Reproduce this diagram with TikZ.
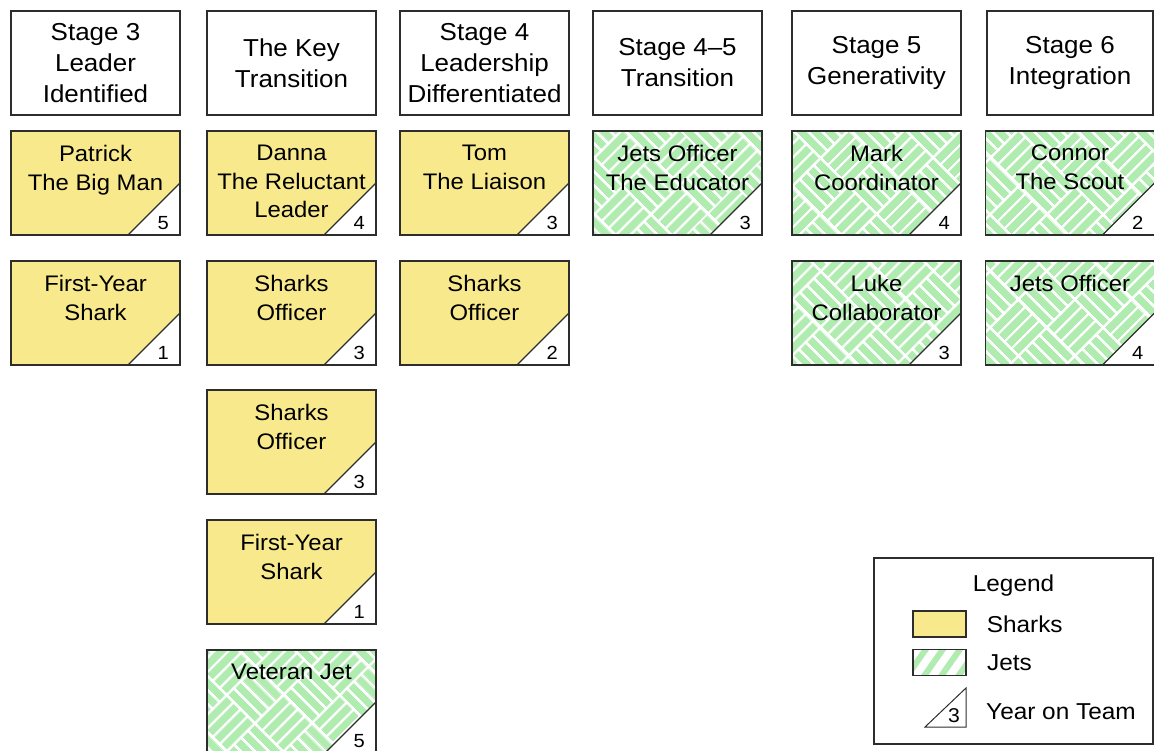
\documentclass[tikz,border=0pt]{standalone}
\usepackage{fontspec}
\setmainfont{Liberation Sans}
\newfontfamily\wide[FakeStretch=1.06, Ligatures=TeX]{Liberation Sans}
\usepackage{tikz}
\usetikzlibrary{positioning}
\usetikzlibrary{patterns.meta}

\definecolor{sharkyellow}{RGB}{248,234,140}
\definecolor{jetgreen}{RGB}{176,235,176}
\definecolor{rim}{RGB}{45,45,45}

\tikzdeclarepattern{
  name=weave, type=colored,
  bottom left={(0pt,0pt)}, top right={(80pt,80pt)},
  tile size={(80pt,80pt)},
  tile transformation={rotate=45},
  code={
    \fill[jetgreen] (0pt,0pt) rectangle (80pt,80pt);
    \foreach \a in {0pt,10pt,20pt,30pt} {
      \draw[white, line width=2.2pt] (0pt,\a) rectangle +(40pt,10pt);
      \draw[white, line width=2.2pt] (40pt+\a,0pt) rectangle +(10pt,40pt);
      \draw[white, line width=2.2pt] (\a,40pt) rectangle +(10pt,40pt);
      \draw[white, line width=2.2pt] (40pt,40pt+\a) rectangle +(40pt,10pt);
    }
  }
}

\begin{document}
\begin{tikzpicture}[x=1pt, y=-1pt]
  \tikzstyle{head}=[rectangle, draw=rim, line width=1.2pt, outer sep=0pt, inner sep=0pt, minimum width=169pt, minimum height=104pt, align=center, font=\wide\fontsize{24.5}{31}\selectfont]
  \tikzstyle{card}=[rectangle, draw=rim, line width=1.2pt, outer sep=0pt, minimum width=169pt, minimum height=104pt,
    path picture={\fill[white] (path picture bounding box.south east) -- ++(-52pt,0pt) -- ++(52pt,52pt) -- cycle;
      \draw[rim, line width=1.2pt] ([xshift=-52pt]path picture bounding box.south east) -- ([yshift=52pt]path picture bounding box.south east);}]
  \tikzstyle{shark}=[card, fill=sharkyellow]
  \tikzstyle{jet}=[card, pattern=weave]
  \tikzstyle{cardtext}=[inner sep=0pt, align=center, font=\wide\fontsize{22.5}{28.5}\selectfont]
  \tikzstyle{year}=[inner sep=0pt, font=\wide\fontsize{19}{19}\selectfont]
  \tikzstyle{keytext}=[inner sep=0pt, font=\wide\fontsize{23}{23}\selectfont]
  \useasboundingbox (0,0) rectangle (1154,751);

    % stage headers
    \node[head] (stage3) at (95.5,63) {Stage 3\\Leader\\Identified};
    \node[head] (keytrans) [right=27pt of stage3] {The Key\\Transition};
    \node[head] (stage4) [right=24pt of keytrans] {Stage 4\\Leadership\\Differentiated};
    \node[head] (stage45) [right=24pt of stage4] {Stage 4--5\\Transition};
    \node[head] (stage5) [right=30pt of stage45] {Stage 5\\Generativity};
    \node[head, minimum width=166pt] (stage6) [right=26pt of stage5] {Stage 6\\Integration};

    % stage 3
    \node[shark] (patrick) [below=16pt of stage3] {};
    \node[cardtext] (patrick-t) [below=14pt of patrick.north] {Patrick\\The Big Man};
    \node[year] (patrick-y) [above left=5pt and 11pt of patrick.south east] {5};
    \node[shark] (fy1) [below=26pt of patrick] {};
    \node[cardtext] (fy1-t) [below=14pt of fy1.north] {First-Year\\Shark};
    \node[year] (fy1-y) [above left=5pt and 11pt of fy1.south east] {1};

    % key transition
    \node[shark] (danna) [below=16pt of keytrans] {};
    \node[cardtext] (danna-t) [below=14pt of danna.north] {Danna\\The Reluctant\\Leader};
    \node[year] (danna-y) [above left=5pt and 11pt of danna.south east] {4};
    \node[shark] (off1) [below=26pt of danna] {};
    \node[cardtext] (off1-t) [below=14pt of off1.north] {Sharks\\Officer};
    \node[year] (off1-y) [above left=5pt and 11pt of off1.south east] {3};
    \node[shark] (off2) [below=25pt of off1] {};
    \node[cardtext] (off2-t) [below=14pt of off2.north] {Sharks\\Officer};
    \node[year] (off2-y) [above left=5pt and 11pt of off2.south east] {3};
    \node[shark] (fy2) [below=26pt of off2] {};
    \node[cardtext] (fy2-t) [below=14pt of fy2.north] {First-Year\\Shark};
    \node[year] (fy2-y) [above left=5pt and 11pt of fy2.south east] {1};
    \node[jet] (vet) [below=26pt of fy2] {};
    \node[cardtext] (vet-t) [below=14pt of vet.north] {Veteran Jet};
    \node[year] (vet-y) [above left=6pt and 11pt of vet.south east] {5};

    % stage 4
    \node[shark] (tom) [below=16pt of stage4] {};
    \node[cardtext] (tom-t) [below=14pt of tom.north] {Tom\\The Liaison};
    \node[year] (tom-y) [above left=5pt and 11pt of tom.south east] {3};
    \node[shark] (off3) [below=26pt of tom] {};
    \node[cardtext] (off3-t) [below=14pt of off3.north] {Sharks\\Officer};
    \node[year] (off3-y) [above left=5pt and 11pt of off3.south east] {2};

    % stage 4-5
    \node[jet] (educator) [below=16pt of stage45] {};
    \node[cardtext] (educator-t) [below=14pt of educator.north] {Jets Officer\\The Educator};
    \node[year] (educator-y) [above left=5pt and 11pt of educator.south east] {3};

    % stage 5
    \node[jet] (mark) [below=16pt of stage5] {};
    \node[cardtext] (mark-t) [below=14pt of mark.north] {Mark\\Coordinator};
    \node[year] (mark-y) [above left=5pt and 11pt of mark.south east] {4};
    \node[jet] (luke) [below=26pt of mark] {};
    \node[cardtext] (luke-t) [below=14pt of luke.north] {Luke\\Collaborator};
    \node[year] (luke-y) [above left=5pt and 11pt of luke.south east] {3};

    % stage 6
    \node[jet] (connor) [below=16pt of stage6] {};
    \node[cardtext] (connor-t) [below=14pt of connor.north] {Connor\\The Scout};
    \node[year] (connor-y) [above left=5pt and 11pt of connor.south east] {2};
    \node[jet] (jetsoff) [below=26pt of connor] {};
    \node[cardtext] (jetsoff-t) [below=14pt of jetsoff.north] {Jets Officer};
    \node[year] (jetsoff-y) [above left=5pt and 11pt of jetsoff.south east] {4};

    % legend
    \node[rectangle, draw=rim, line width=1.2pt, minimum width=279pt, minimum height=186pt] (legend) at (1013.5,651) {};
    \node[keytext] (legend-t) [below=17pt of legend.north] {Legend};
    \node[rectangle, draw=rim, line width=1.2pt, fill=sharkyellow, minimum width=53pt, minimum height=26pt] (key-sharks) at (939.5,624) {};
    \node[rectangle, draw=rim, line width=1.2pt, pattern={Lines[angle=55, distance=14pt, line width=6pt]}, pattern color=jetgreen, minimum width=53pt, minimum height=26pt] (key-jets) at (939.5,662.5) {};
    \coordinate (key-year) at (966,727);
    \draw[rim, line width=1pt] (key-year) -- ++(-41,0) -- ++(41,-39) -- cycle;
    \node[year, font=\wide\fontsize{20}{20}\selectfont] (key-year-n) [above left=4pt and 6pt of key-year] {3};
    \node[keytext] (sharks-l) [right=20pt of key-sharks] {Sharks};
    \node[keytext] (jets-l) [right=18pt of key-jets] {Jets};
    \node[keytext] (year-l) [right=20pt of key-year, yshift=15pt] {Year on Team};
  \end{tikzpicture}
\end{document}
